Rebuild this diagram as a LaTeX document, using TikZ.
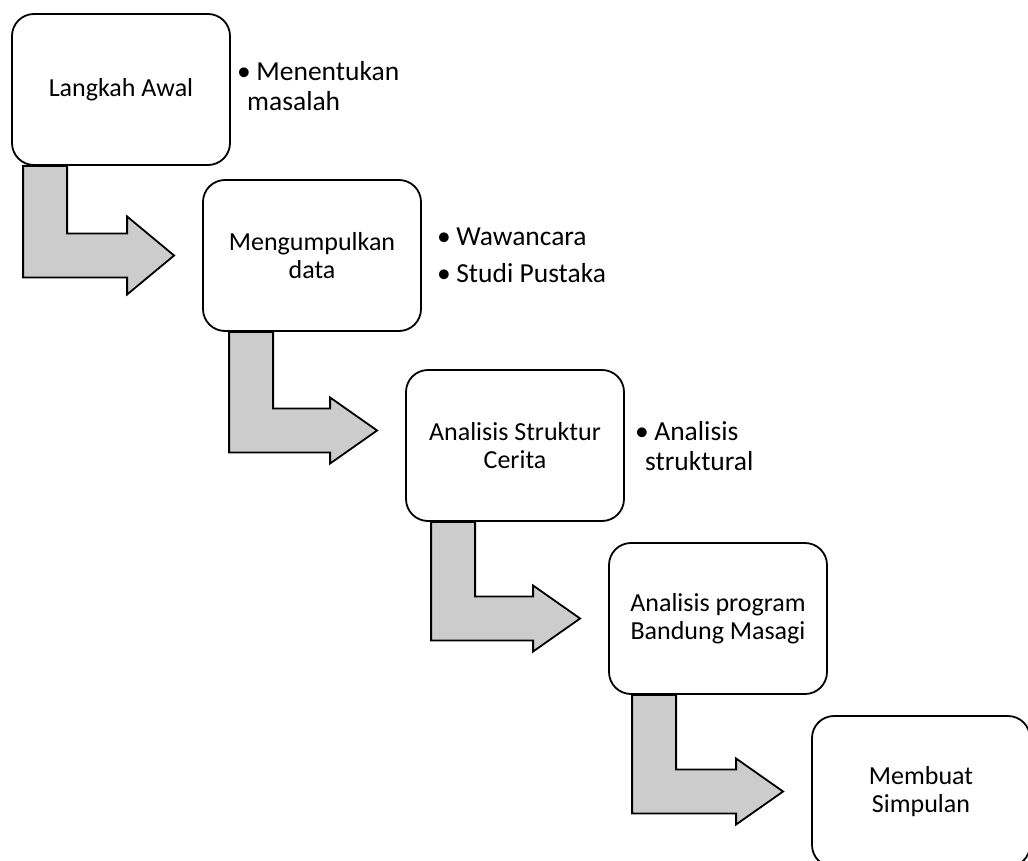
\documentclass[tikz,border=0pt]{standalone}
\usepackage{fontspec}
\setmainfont{Carlito}
\usetikzlibrary{calc}
% bent block arrow: from box #1 down and across to box #2
% #3 = bar offset from the left edge of #1, #4 = raise of the tip, #5 = half head
\newcommand{\bentarrow}[5]{%
  \draw[flowarrow] let \p1=(#1.south west), \p2=(#2.west) in
    (\x1+#3pt,\y1) -- (\x1+#3pt,\y2+#4pt-22pt) -- (\x2-75pt,\y2+#4pt-22pt)
    -- (\x2-75pt,\y2+#4pt-#5pt) -- (\x2-28pt,\y2+#4pt)
    -- (\x2-75pt,\y2+#4pt+#5pt) -- (\x2-75pt,\y2+#4pt+22pt)
    -- (\x1+#3pt+44pt,\y2+#4pt+22pt) -- (\x1+#3pt+44pt,\y1) -- cycle;}

\begin{document}
\begin{tikzpicture}[
  x=1pt,y=-1pt,
  stepbox/.style={draw=black,fill=white,rounded corners=22pt,
    line width=1.8pt,minimum width=218pt,minimum height=151pt,
    align=center,inner sep=4pt,font=\fontsize{26}{28}\selectfont},
  sidetext/.style={anchor=north west,align=left,inner sep=0pt,
    font=\fontsize{27.5}{30}\selectfont},
  flowarrow/.style={draw=black,fill=black!20,line width=1.8pt,line join=miter}
]
\clip (0,0) rectangle (1028,861);
\fill[white] (0,0) rectangle (1028,861);
\node[stepbox] (awal) at (121,89.5) {Langkah Awal};
\node[stepbox] (data) at (312,255.5) {Mengumpulkan\\data};
\node[stepbox] (struktur) at (515,445.5) {Analisis Struktur\\Cerita};
\node[stepbox] (program) at (718,618.5) {Analisis program\\Bandung Masagi};
\node[stepbox] (simpulan) at (921,791.5) {Membuat\\Simpulan};
\bentarrow{awal}{data}{12}{0}{39}
\bentarrow{data}{struktur}{27}{15}{33}
\bentarrow{struktur}{program}{26}{0}{33}
\bentarrow{program}{simpulan}{24}{0}{33}
% notes beside the first three steps
\node[sidetext] (awalnote) at (237,61) {•\hspace{0.2em}Menentukan\\\hspace*{10pt}masalah};
\node[sidetext] (datanote) at (437,228) {•\hspace{0.2em}Wawancara\\[7pt]•\hspace{0.2em}Studi Pustaka};
\node[sidetext] (strukturnote) at (635,421) {•\hspace{0.2em}Analisis\\\hspace*{10pt}struktural};
\end{tikzpicture}
\end{document}
